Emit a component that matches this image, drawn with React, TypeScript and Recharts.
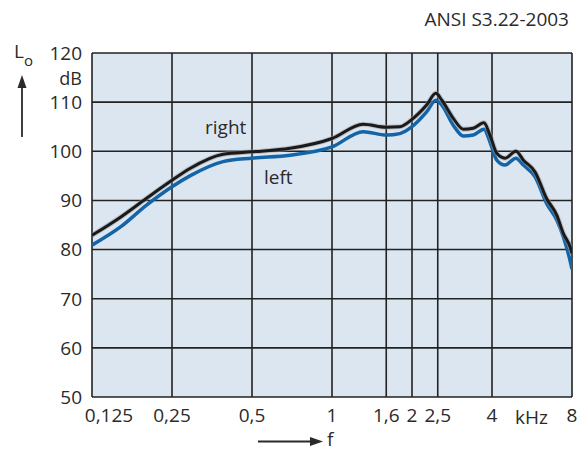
import React from 'react';
import { LineChart, Line, XAxis, YAxis, CartesianGrid } from 'recharts';

// frequency in kHz (log axis)
const freqs = [
  0.125, 0.16, 0.2, 0.25, 0.292, 0.389, 0.5, 0.695, 1, 1.31, 1.6, 1.8, 2.0, 2.27, 2.46, 2.59,
  2.86, 3.12, 3.4, 3.73, 3.93, 4.17, 4.48, 4.92, 5.25, 5.81, 6.42, 7.01, 7.42, 7.91, 8,
];
const rightEar = [
  82.9, 86.6, 90.4, 94.1, 96.5, 99.4, 99.9, 100.6, 102.6, 105.5, 104.9, 105.0, 106.5, 109.4, 111.8, 110.4,
  106.7, 104.5, 104.7, 105.8, 103.3, 99.6, 98.6, 100.0, 98.2, 95.8, 90.4, 87.0, 83.3, 80.2, 79.2,
];
const leftEar = [
  80.9, 84.6, 89.0, 92.8, 95.0, 97.9, 98.6, 99.2, 100.9, 104.0, 103.3, 103.6, 105.0, 108.0, 110.4, 109.4,
  105.3, 103.1, 103.3, 104.5, 101.9, 98.2, 97.2, 98.6, 97.2, 94.8, 89.4, 86.0, 82.6, 77.2, 76.0,
];
const xTicks = [0.125, 0.25, 0.5, 1, 1.6, 2, 2.5, 4, 8];
const yTicks = [50, 60, 70, 80, 90, 100, 110, 120];

const data = freqs.map((f, i) => ({ f, right: rightEar[i], left: leftEar[i] }));

const font = '"Open Sans", sans-serif';
const ink = '#2a2a2a';

const XTick = (props: any) => {
  const { x, y, payload } = props;
  const v = payload.value;
  const label = String(v).replace('.', ',');
  const dx = v === 0.125 ? 17 : 0;
  return (
    <text x={x + dx} y={y} dy="0.71em" textAnchor="middle" fill={ink} fontSize={19} fontFamily={font}>
      {label}
    </text>
  );
};

const YTick = (props: any) => {
  const { x, y, payload } = props;
  return (
    <text x={x} y={y} dy="0.36em" textAnchor="end" fill={ink} fontSize={19} fontFamily={font}>
      {payload.value}
    </text>
  );
};

const abs = (left: number, top: number, extra: React.CSSProperties = {}): React.CSSProperties => ({
  position: 'absolute',
  left,
  top,
  fontFamily: font,
  fontSize: 19,
  color: ink,
  lineHeight: 1,
  whiteSpace: 'nowrap',
  ...extra,
});

export default function App() {
  return (
    <div style={{ position: 'absolute', left: 0, top: 0, width: 587, height: 451, background: '#fff' }}>
      <LineChart
        width={587}
        height={451}
        data={data}
        margin={{ top: 53, right: 15, left: 52, bottom: 24 }}
      >
        <CartesianGrid stroke="#222" strokeWidth={1.6} fill="#dce6f1" fillOpacity={1} horizontal vertical />
        <XAxis
          dataKey="f"
          type="number"
          scale="log"
          domain={[0.125, 8]}
          ticks={xTicks}
          allowDataOverflow
          axisLine={false}
          tickLine={false}
          tickSize={0}
          tickMargin={12}
          height={30}
          interval={0}
          tick={<XTick />}
        />
        <YAxis
          type="number"
          domain={[50, 120]}
          ticks={yTicks}
          axisLine={false}
          tickLine={false}
          tickSize={0}
          tickMargin={10}
          width={40}
          interval={0}
          tick={<YTick />}
        />
        <Line type="monotone" dataKey="left" stroke="#1464a8" strokeWidth={3.5} dot={false} isAnimationActive={false} />
        <Line type="monotone" dataKey="right" stroke="#9a9a9a" strokeWidth={5} strokeOpacity={0.5} dot={false} isAnimationActive={false} />
        <Line type="monotone" dataKey="right" stroke="#1a1a1a" strokeWidth={3} dot={false} isAnimationActive={false} />
      </LineChart>

      <div style={abs(0, 10, { width: 569, textAlign: 'right' })}>ANSI S3.22-2003</div>
      <div style={abs(14, 42)}>L<span style={{ fontSize: 15, position: 'relative', top: 8 }}>o</span></div>
      <div style={abs(0, 69, { width: 82, textAlign: 'right', fontSize: 18 })}>dB</div>
      <div style={abs(205, 118)}>right</div>
      <div style={abs(264, 168)}>left</div>
      <div style={abs(515, 408, { width: 30, textAlign: 'center' })}>kHz</div>
      <div style={abs(327, 430)}>f</div>

      <svg width={587} height={451} style={{ position: 'absolute', left: 0, top: 0, pointerEvents: 'none' }}>
        <line x1={22} y1={137} x2={22} y2={86} stroke={ink} strokeWidth={1.8} />
        <polygon points="22,75 17.5,88 26.5,88" fill={ink} />
        <line x1={258} y1={441.5} x2={312} y2={441.5} stroke={ink} strokeWidth={1.8} />
        <polygon points="323,441.5 310,437 310,446" fill={ink} />
      </svg>
    </div>
  );
}
